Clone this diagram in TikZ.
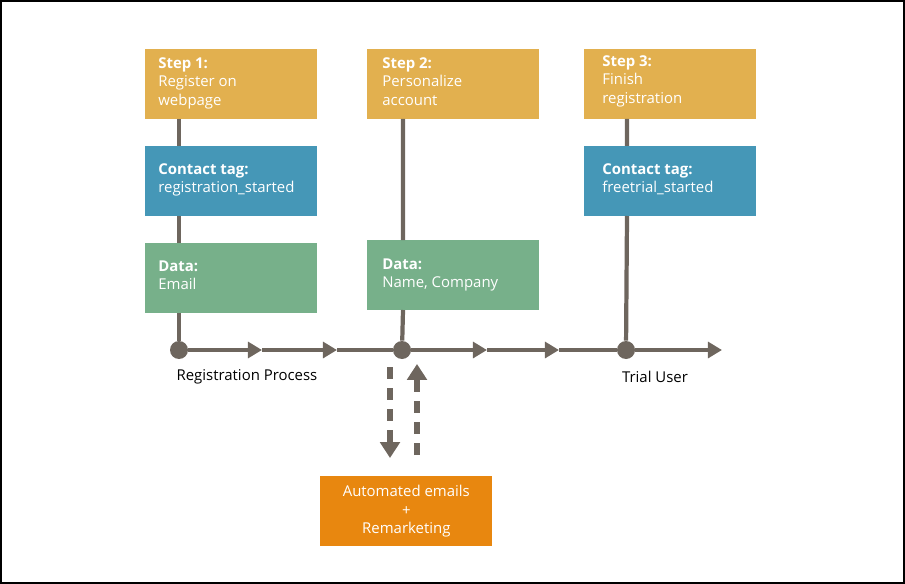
\documentclass[tikz,border=0pt]{standalone}
\usepackage{fontspec}
\setmainfont{Open Sans}
\usetikzlibrary{arrows.meta}
\definecolor{stepc}{HTML}{E2B04F}
\definecolor{tagc}{HTML}{4597B7}
\definecolor{datac}{HTML}{77B08A}
\definecolor{mailc}{HTML}{E8870F}
\definecolor{linec}{HTML}{6E665E}
\begin{document}
\begin{tikzpicture}[x=0.02cm,y=-0.02cm,
  box/.style={fill=#1, minimum width=3.44cm, minimum height=1.4cm, anchor=north west,
    inner sep=0pt},
  txt/.style={anchor=north west, text=white, align=left, inner sep=0pt,
    font=\fontsize{8.5}{10.5}\selectfont},
  track/.style={linec, line width=2.4pt},
  dot/.style={circle, fill=linec, minimum size=0.36cm, inner sep=0pt},
  loopback/.style={linec, line width=3.4pt, dash pattern=on 7pt off 5pt,
    -{Triangle[length=9pt,width=11pt]}},
  lbl/.style={font=\fontsize{8.5}{10}\selectfont}]
  \useasboundingbox (0,0) rectangle (905,584);
  \draw[line width=1pt] (1,1) rectangle (904,583);

  % boxes
  \node[box=stepc] (s1) at (145,49) {};
  \node[box=tagc]  (t1) at (145,146) {};
  \node[box=datac] (d1) at (145,243) {};
  \node[box=stepc] (s2) at (367,49) {};
  \node[box=datac] (d2) at (367,240) {};
  \node[box=stepc] (s3) at (584,49) {};
  \node[box=tagc]  (t3) at (584,146) {};
  \node[box=mailc] (m) at (320,476) {};

  % dots on the track
  \node[dot] (p1) at (179,350) {};
  \node[dot] (p2) at (402,350) {};
  \node[dot] (p3) at (626,350) {};
  \coordinate (e) at (722,350);

  % vertical stems
  \draw[track] (179,119) -- (179,146) (179,216) -- (179,243) (179,313) -- (p1);
  \draw[track] (403,119) -- (403,240) (403,310) -- (p2);
  \draw[track] (627,119) -- (627,146) (627,216) -- (p3);

  % horizontal track
  \draw[track, -{Triangle[length=8pt,width=9pt]}] (p1) -- (262,350);
  \draw[track, -{Triangle[length=8pt,width=9pt]}] (262,350) -- (337,350);
  \draw[track] (337,350) -- (p2);
  \draw[track, -{Triangle[length=8pt,width=9pt]}] (p2) -- (487,350);
  \draw[track, -{Triangle[length=8pt,width=9pt]}] (487,350) -- (559,350);
  \draw[track] (559,350) -- (p3);
  \draw[track, -{Triangle[length=8pt,width=9pt]}] (p3) -- (e);

  % texts
  \node[txt] at (158,57) {\textbf{Step 1:}\\Register on\\webpage};
  \node[txt] at (158,163) {\textbf{Contact tag:}\\registration\_started};
  \node[txt] at (158,260) {\textbf{Data:}\\Email};
  \node[txt] at (382,57) {\textbf{Step 2:}\\Personalize\\account};
  \node[txt] at (382,258) {\textbf{Data:}\\Name, Company};
  \node[txt] at (602,55) {\textbf{Step 3:}\\Finish\\registration};
  \node[txt] at (602,163) {\textbf{Contact tag:}\\freetrial\_started};
  \node[txt, anchor=center, align=center] at (m.center) {Automated emails\\+\\Remarketing};

  \node[lbl] (rp) at (247,377) {Registration Process};
  \node[lbl] (tu) at (655,377) {Trial User};

  % dashed loop to the mails box
  \draw[loopback] (390,367) -- (390,458);
  \draw[loopback] (417,455) -- (417,364);
\end{tikzpicture}
\end{document}
